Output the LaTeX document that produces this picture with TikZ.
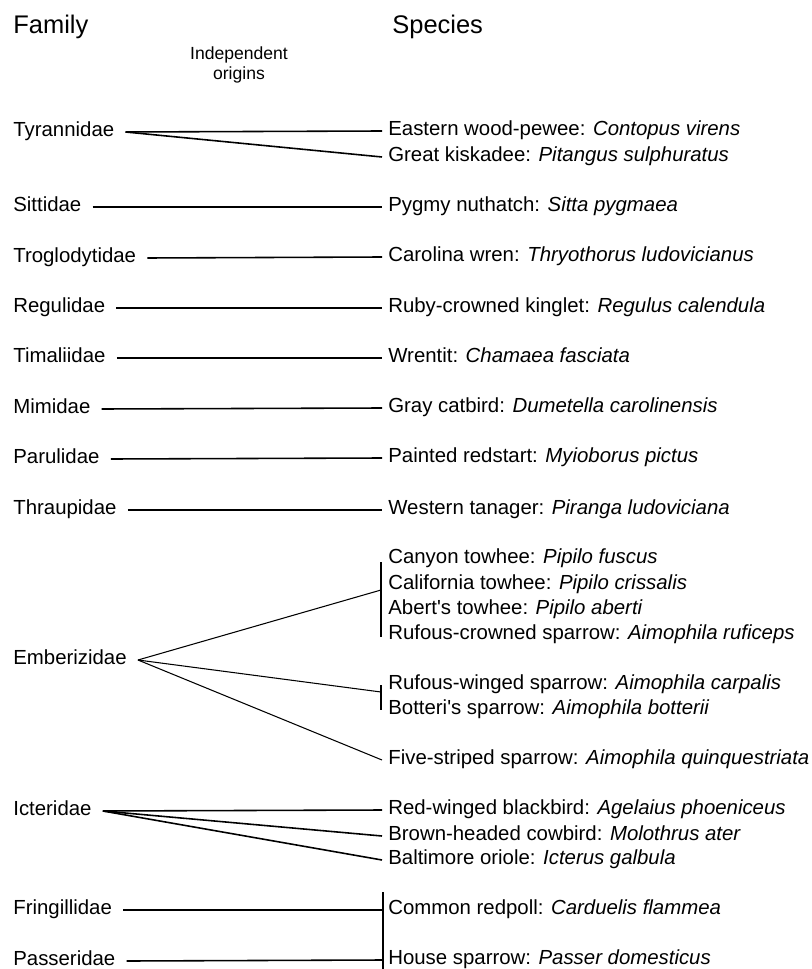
\documentclass[tikz,border=0pt]{standalone}
\usepackage{fontspec}
\setmainfont{Liberation Sans}
\usepackage{tikz}
\usetikzlibrary{positioning}
\tikzstyle{heading} = [anchor=west, inner sep=0pt, font=\fontsize{14.5}{17}\selectfont]
\tikzstyle{family} = [anchor=west, inner xsep=0.22cm, inner ysep=0pt, text height=6.4pt, text depth=1.2pt, font=\fontsize{11.6}{14}\selectfont]
\tikzstyle{species} = [anchor=west, inner xsep=0.12cm, inner ysep=0pt, text height=6.4pt, text depth=1.2pt, font=\fontsize{11.6}{14}\selectfont]
\tikzstyle{link} = [line width=0.9pt]
\tikzstyle{fan} = [line width=0.6pt]

\begin{document}
\begin{tikzpicture}[x=0.02cm, y=-0.02cm]
\useasboundingbox (0,0) rectangle (811,969);
\node (famhead) [heading] at (13,27) {Family};
\node (sphead) [heading] at (392,27) {Species};
\node (origins) [align=center, inner sep=0pt, font=\fontsize{10}{11.3}\selectfont] at (239,65) {Independent\\origins};

% families
\node (tyrannidae) [family] at (2,132) {Tyrannidae};
\node (sittidae) [family] at (2,207) {Sittidae};
\node (troglodytidae) [family] at (2,258) {Troglodytidae};
\node (regulidae) [family] at (2,308) {Regulidae};
\node (timaliidae) [family] at (2,358) {Timaliidae};
\node (mimidae) [family] at (2,409) {Mimidae};
\node (parulidae) [family] at (2,459) {Parulidae};
\node (thraupidae) [family] at (2,510) {Thraupidae};
\node (emberizidae) [family] at (2,660) {Emberizidae};
\node (icteridae) [family] at (2,811) {Icteridae};
\node (fringillidae) [family] at (2,910) {Fringillidae};
\node (passeridae) [family] at (2,961) {Passeridae};

% species
\node (pewee) [species] at (382,131) {Eastern wood-pewee: \textit{Contopus virens}};
\node (kiskadee) [species] at (382,157) {Great kiskadee: \textit{Pitangus sulphuratus}};
\node (nuthatch) [species] at (382,207) {Pygmy nuthatch: \textit{Sitta pygmaea}};
\node (wren) [species] at (382,257) {Carolina wren: \textit{Thryothorus ludovicianus}};
\node (kinglet) [species] at (382,308) {Ruby-crowned kinglet: \textit{Regulus calendula}};
\node (wrentit) [species] at (382,358) {Wrentit: \textit{Chamaea fasciata}};
\node (catbird) [species] at (382,408) {Gray catbird: \textit{Dumetella carolinensis}};
\node (redstart) [species] at (382,458) {Painted redstart: \textit{Myioborus pictus}};
\node (tanager) [species] at (382,510) {Western tanager: \textit{Piranga ludoviciana}};
\node (canyon) [species] at (382,559) {Canyon towhee: \textit{Pipilo fuscus}};
\node (california) [species] at (382,585) {California towhee: \textit{Pipilo crissalis}};
\node (abert) [species] at (382,610) {Abert\textquotesingle s towhee: \textit{Pipilo aberti}};
\node (rufouscrowned) [species] at (382,635) {Rufous-crowned sparrow: \textit{Aimophila ruficeps}};
\node (rufouswinged) [species] at (382,685) {Rufous-winged sparrow: \textit{Aimophila carpalis}};
\node (botteri) [species] at (382,710) {Botteri\textquotesingle s sparrow: \textit{Aimophila botterii}};
\node (fivestriped) [species] at (382,760) {Five-striped sparrow: \textit{Aimophila quinquestriata}};
\node (blackbird) [species] at (382,810) {Red-winged blackbird: \textit{Agelaius phoeniceus}};
\node (cowbird) [species] at (382,836) {Brown-headed cowbird: \textit{Molothrus ater}};
\node (oriole) [species] at (382,860) {Baltimore oriole: \textit{Icterus galbula}};
\node (redpoll) [species] at (382,910) {Common redpoll: \textit{Carduelis flammea}};
\node (housesparrow) [species] at (382,960) {House sparrow: \textit{Passer domesticus}};

% bracket ends
\coordinate (pipilo) at (381,590);
\coordinate (pipilotop) at (381,562);
\coordinate (pipilobot) at (381,637);
\coordinate (aimophila) at (381,692);
\coordinate (aimophilatop) at (381,685);
\coordinate (aimophilabot) at (381,710);
\coordinate (finchtop) at (383,892);
\coordinate (finchbot) at (383,969);

\draw[link] (tyrannidae.east) -- (pewee.west);
\draw[link] (tyrannidae.east) -- (kiskadee.west);
\draw[link] (sittidae.east) -- (nuthatch.west);
\draw[link] (troglodytidae.east) -- (wren.west);
\draw[link] (regulidae.east) -- (kinglet.west);
\draw[link] (timaliidae.east) -- (wrentit.west);
\draw[link] (mimidae.east) -- (catbird.west);
\draw[link] (parulidae.east) -- (redstart.west);
\draw[link] (thraupidae.east) -- (tanager.west);

\draw[fan] (pipilotop) -- (pipilobot);
\draw[fan] (aimophilatop) -- (aimophilabot);
\draw[fan] (emberizidae.east) -- (pipilo);
\draw[fan] (emberizidae.east) -- (aimophila);
\draw[fan] (emberizidae.east) -- (fivestriped.west);

\draw[link] (icteridae.east) -- (blackbird.west);
\draw[link] (icteridae.east) -- (cowbird.west);
\draw[link] (icteridae.east) -- (oriole.west);

\draw[fan] (finchtop) -- (finchbot);
\draw[link] (fringillidae.east) -- (redpoll.west);
\draw[link] (passeridae.east) -- (housesparrow.west);
\end{tikzpicture}
\end{document}
